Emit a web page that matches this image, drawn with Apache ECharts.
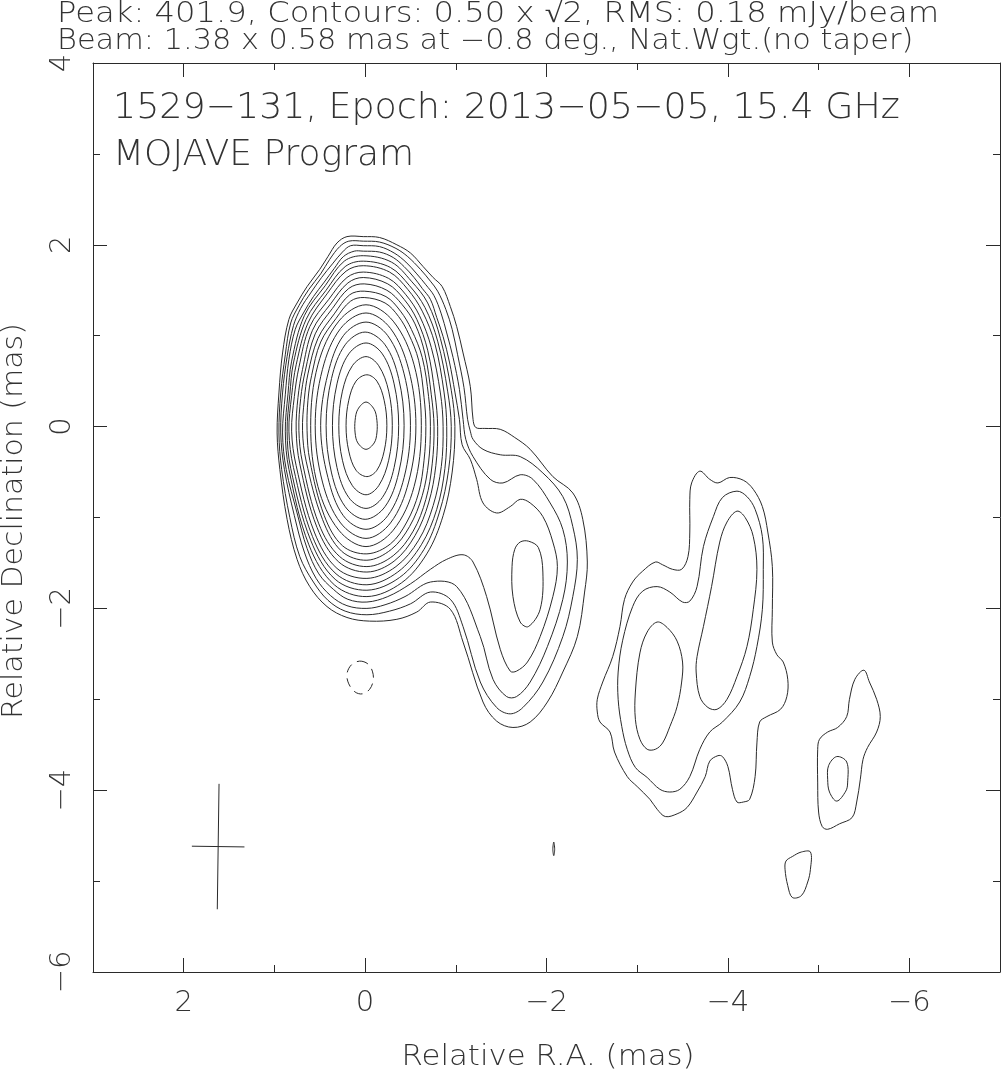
<!DOCTYPE html>
<html><head><meta charset="utf-8">
<script src="https://cdn.jsdelivr.net/npm/echarts@6/dist/echarts.min.js"></script>
<style>html,body{margin:0;padding:0;background:#fff}#c{width:1001px;height:1079px}</style>
</head><body><div id="c"></div>
<script>
// ---------- tick values ----------
const X_MAJOR = [-6, -4, -2, 0, 2];
const X_MINOR = [-5, -3, -1, 1];
const Y_MAJOR = [-6, -4, -2, 0, 2, 4];
const Y_MINOR = [-5, -3, -1, 1, 3];

// ---------- texts ----------
const HEADER1 = 'Peak: 401.9, Contours: 0.50 x \u221A2, RMS: 0.18 mJy/beam';
const HEADER2 = 'Beam: 1.38 x 0.58 mas at \u22120.8 deg., Nat.Wgt.(no taper)';
const TITLE1 = '1529\u2212131, Epoch: 2013\u221205\u221205, 15.4 GHz';
const TITLE2 = 'MOJAVE Program';
const XNAME = 'Relative R.A. (mas)';
const YNAME = 'Relative Declination (mas)';

// ---------- beam (mas, deg) ----------
const BEAM_CENTER = [1.62, -4.62];
const BEAM_AXES = [1.38, 0.58];
const BEAM_PA = -0.8;

// ---------- contours (RA mas, Dec mas), levels 0.5 x sqrt2^n mJy/beam ----------
const lvl01 = [[0.02,2.09],[-0.16,2.08],[-0.35,2.00],[-0.50,1.91],[-0.64,1.76],[-0.75,1.64],[-0.85,1.54],[-0.94,1.32],[-1.01,1.10],[-1.08,0.81],[-1.16,0.44],[-1.19,0.08],[-1.22,-0.01],[-1.32,-0.02],[-1.49,-0.03],[-1.65,-0.12],[-1.82,-0.25],[-2.07,-0.55],[-2.29,-0.73],[-2.40,-1.02],[-2.45,-1.49],[-2.42,-1.82],[-2.34,-2.31],[-2.18,-2.70],[-2.01,-3.03],[-1.82,-3.25],[-1.63,-3.31],[-1.45,-3.24],[-1.30,-3.03],[-1.08,-2.37],[-0.94,-2.01],[-0.72,-1.93],[-0.57,-2.04],[-0.35,-2.12],[-0.05,-2.14],[0.20,-2.10],[0.42,-1.98],[0.61,-1.76],[0.75,-1.46],[0.86,-1.02],[0.94,-0.47],[0.97,-0.07],[0.95,0.37],[0.91,0.81],[0.84,1.18],[0.75,1.36],[0.64,1.54],[0.50,1.73],[0.41,1.87],[0.31,2.02],[0.20,2.09]];
const lvl02 = [[0.02,2.04],[-0.16,2.03],[-0.34,1.96],[-0.47,1.87],[-0.61,1.73],[-0.72,1.60],[-0.80,1.49],[-0.89,1.29],[-0.96,1.07],[-1.02,0.79],[-1.09,0.43],[-1.13,0.08],[-1.16,-0.05],[-1.19,-0.14],[-1.30,-0.25],[-1.49,-0.31],[-1.71,-0.33],[-1.96,-0.51],[-2.18,-0.77],[-2.29,-1.10],[-2.34,-1.46],[-2.29,-1.87],[-2.18,-2.31],[-1.96,-2.81],[-1.74,-3.09],[-1.60,-3.16],[-1.45,-3.09],[-1.27,-2.81],[-1.08,-2.20],[-0.94,-1.90],[-0.72,-1.82],[-0.50,-1.95],[-0.27,-2.03],[-0.02,-2.07],[0.22,-2.03],[0.41,-1.91],[0.57,-1.71],[0.72,-1.43],[0.83,-1.00],[0.92,-0.47],[0.95,-0.07],[0.93,0.37],[0.88,0.79],[0.82,1.14],[0.73,1.33],[0.62,1.51],[0.49,1.68],[0.39,1.84],[0.28,1.98],[0.18,2.04]];
const lvl03 = [[0.02,1.99],[-0.16,1.98],[-0.32,1.91],[-0.45,1.81],[-0.57,1.68],[-0.67,1.56],[-0.76,1.44],[-0.84,1.24],[-0.90,1.03],[-0.97,0.76],[-1.04,0.41],[-1.08,0.08],[-1.11,-0.14],[-1.19,-0.33],[-1.38,-0.58],[-1.52,-0.62],[-1.71,-0.53],[-1.85,-0.58],[-2.04,-0.84],[-2.18,-1.13],[-2.23,-1.49],[-2.18,-1.90],[-2.01,-2.42],[-1.82,-2.81],[-1.67,-2.97],[-1.56,-2.97],[-1.41,-2.78],[-1.27,-2.31],[-1.01,-1.76],[-0.72,-1.71],[-0.44,-1.87],[-0.22,-1.96],[-0.02,-2.00],[0.20,-1.97],[0.38,-1.86],[0.54,-1.67],[0.67,-1.38],[0.78,-0.98],[0.89,-0.47],[0.93,-0.07],[0.91,0.37],[0.86,0.77],[0.79,1.11],[0.71,1.30],[0.60,1.47],[0.48,1.64],[0.36,1.79],[0.25,1.92],[0.16,1.99]];
const lvl04 = [[0.02,1.93],[-0.16,1.92],[-0.31,1.86],[-0.43,1.76],[-0.54,1.64],[-0.63,1.52],[-0.72,1.40],[-0.79,1.20],[-0.86,0.99],[-0.93,0.71],[-0.99,0.38],[-1.04,0.08],[-1.07,-0.20],[-1.16,-0.36],[-1.23,-0.58],[-1.30,-0.84],[-1.45,-0.95],[-1.60,-0.88],[-1.71,-0.80],[-1.82,-0.84],[-1.96,-0.99],[-2.07,-1.27],[-2.12,-1.54],[-2.07,-1.87],[-1.93,-2.31],[-1.79,-2.59],[-1.67,-2.69],[-1.60,-2.69],[-1.49,-2.45],[-1.34,-1.87],[-1.19,-1.49],[-1.08,-1.41],[-0.90,-1.46],[-0.72,-1.57],[-0.50,-1.73],[-0.25,-1.87],[-0.02,-1.93],[0.19,-1.90],[0.35,-1.79],[0.51,-1.62],[0.64,-1.34],[0.75,-0.95],[0.87,-0.47],[0.91,-0.07],[0.88,0.35],[0.84,0.74],[0.77,1.07],[0.68,1.25],[0.57,1.43],[0.45,1.59],[0.34,1.74],[0.24,1.87],[0.12,1.93]];
const lvl05 = [[0.02,1.88],[-0.29,1.81],[-0.51,1.60],[-0.69,1.36],[-0.83,0.97],[-0.95,0.40],[-0.99,0.0],[-0.96,-0.50],[-0.86,-0.98],[-0.68,-1.40],[-0.40,-1.72],[-0.02,-1.87],[0.34,-1.74],[0.62,-1.30],[0.84,-0.47],[0.88,-0.05],[0.85,0.36],[0.81,0.72],[0.67,1.22],[0.44,1.55],[0.23,1.82]];
const lvl05jet = [[-1.71,-1.27],[-1.80,-1.26],[-1.91,-1.33],[-1.96,-1.60],[-1.93,-2.01],[-1.80,-2.20],[-1.71,-2.15],[-1.63,-1.87],[-1.62,-1.54],[-1.65,-1.35]];
const lvl06 = [[0.02,1.82],[-0.28,1.75],[-0.49,1.55],[-0.66,1.31],[-0.80,0.94],[-0.91,0.39],[-0.95,0.0],[-0.92,-0.48],[-0.82,-0.94],[-0.65,-1.35],[-0.38,-1.66],[-0.02,-1.80],[0.33,-1.68],[0.60,-1.25],[0.82,-0.46],[0.86,-0.05],[0.83,0.35],[0.79,0.70],[0.65,1.18],[0.43,1.50],[0.22,1.76]];
const lvl07 = [[0.02,1.77],[-0.27,1.70],[-0.47,1.51],[-0.63,1.27],[-0.77,0.91],[-0.87,0.38],[-0.90,0.0],[-0.88,-0.46],[-0.79,-0.91],[-0.62,-1.30],[-0.36,-1.60],[-0.02,-1.74],[0.32,-1.62],[0.58,-1.21],[0.79,-0.45],[0.84,-0.05],[0.81,0.34],[0.76,0.68],[0.63,1.14],[0.42,1.46],[0.21,1.71]];
const lvl08 = [[0.02,1.70],[-0.26,1.63],[-0.45,1.45],[-0.60,1.22],[-0.73,0.87],[-0.83,0.37],[-0.86,0.0],[-0.84,-0.44],[-0.75,-0.87],[-0.59,-1.25],[-0.34,-1.54],[-0.02,-1.67],[0.31,-1.56],[0.56,-1.16],[0.76,-0.43],[0.81,-0.05],[0.78,0.33],[0.73,0.65],[0.61,1.10],[0.40,1.40],[0.20,1.64]];
const lvl09 = [[0.02,1.64],[-0.25,1.57],[-0.43,1.40],[-0.57,1.18],[-0.69,0.84],[-0.77,0.36],[-0.80,0.0],[-0.78,-0.43],[-0.70,-0.84],[-0.55,-1.20],[-0.32,-1.48],[-0.02,-1.60],[0.29,-1.49],[0.53,-1.11],[0.72,-0.41],[0.76,-0.04],[0.74,0.32],[0.69,0.63],[0.58,1.06],[0.38,1.35],[0.19,1.58]];
const lvl10 = [[0.01,1.57],[-0.24,1.50],[-0.41,1.34],[-0.55,1.13],[-0.66,0.80],[-0.73,0.35],[-0.76,0.0],[-0.74,-0.41],[-0.67,-0.80],[-0.53,-1.15],[-0.31,-1.42],[-0.02,-1.54],[0.28,-1.43],[0.51,-1.07],[0.69,-0.40],[0.73,-0.04],[0.71,0.31],[0.66,0.61],[0.55,1.02],[0.36,1.30],[0.18,1.52]];
const lvl11 = [[0.01,1.49],[-0.23,1.43],[-0.39,1.27],[-0.51,1.07],[-0.63,0.76],[-0.70,0.33],[-0.72,0.0],[-0.70,-0.39],[-0.63,-0.76],[-0.49,-1.10],[-0.29,-1.35],[-0.02,-1.47],[0.26,-1.37],[0.47,-1.02],[0.65,-0.38],[0.69,-0.04],[0.67,0.30],[0.63,0.58],[0.52,0.97],[0.34,1.24],[0.17,1.45]];
const lvl12 = [[0.01,1.42],[-0.22,1.36],[-0.37,1.21],[-0.48,1.02],[-0.59,0.73],[-0.65,0.32],[-0.67,0.0],[-0.65,-0.37],[-0.59,-0.73],[-0.46,-1.05],[-0.28,-1.29],[-0.02,-1.40],[0.25,-1.31],[0.45,-0.98],[0.61,-0.37],[0.64,-0.04],[0.63,0.29],[0.59,0.56],[0.49,0.93],[0.32,1.19],[0.16,1.38]];
const lvl13 = [[-0.01,1.34],[-0.31,1.16],[-0.54,0.68],[-0.62,0.01],[-0.54,-0.66],[-0.31,-1.14],[-0.01,-1.32],[0.29,-1.14],[0.52,-0.66],[0.60,0.01],[0.52,0.68],[0.29,1.16]];
const lvl14 = [[-0.01,1.25],[-0.28,1.08],[-0.48,0.63],[-0.56,0.01],[-0.48,-0.61],[-0.28,-1.06],[-0.01,-1.23],[0.27,-1.06],[0.47,-0.61],[0.55,0.01],[0.47,0.63],[0.27,1.08]];
const lvl15 = [[-0.01,1.15],[-0.25,1.00],[-0.43,0.58],[-0.50,0.01],[-0.43,-0.56],[-0.25,-0.98],[-0.01,-1.13],[0.24,-0.98],[0.41,-0.56],[0.49,0.01],[0.41,0.58],[0.24,1.00]];
const lvl16 = [[0.0,1.04],[-0.22,0.90],[-0.37,0.53],[-0.43,0.01],[-0.37,-0.51],[-0.22,-0.88],[0.0,-1.02],[0.22,-0.88],[0.37,-0.51],[0.43,0.01],[0.37,0.53],[0.22,0.90]];
const lvl17 = [[-0.01,0.92],[-0.19,0.80],[-0.32,0.47],[-0.37,0.01],[-0.32,-0.45],[-0.19,-0.78],[-0.01,-0.90],[0.18,-0.78],[0.31,-0.45],[0.36,0.01],[0.31,0.47],[0.18,0.80]];
const lvl18 = [[-0.01,0.77],[-0.15,0.67],[-0.26,0.39],[-0.30,0.01],[-0.26,-0.37],[-0.15,-0.65],[-0.01,-0.75],[0.14,-0.65],[0.25,-0.37],[0.29,0.01],[0.25,0.39],[0.14,0.67]];
const lvl19 = [[-0.02,0.57],[-0.13,0.50],[-0.21,0.29],[-0.24,0.01],[-0.21,-0.27],[-0.13,-0.48],[-0.02,-0.55],[0.10,-0.48],[0.18,-0.27],[0.21,0.01],[0.18,0.29],[0.10,0.50]];
const lvl20 = [[-0.01,0.27],[-0.10,0.19],[-0.13,0.07],[-0.13,-0.07],[-0.10,-0.18],[-0.01,-0.25],[0.08,-0.18],[0.11,-0.07],[0.11,0.07],[0.08,0.19]];

// outer jet knots
const knotA1 = [[-3.69,-0.49],[-3.80,-0.58],[-3.89,-0.62],[-4.02,-0.56],[-4.17,-0.59],[-4.28,-0.69],[-4.38,-0.88],[-4.44,-1.16],[-4.49,-1.54],[-4.49,-2.01],[-4.49,-2.37],[-4.54,-2.51],[-4.61,-2.59],[-4.66,-2.78],[-4.65,-2.97],[-4.58,-3.11],[-4.43,-3.19],[-4.35,-3.25],[-4.32,-3.48],[-4.30,-3.85],[-4.24,-4.10],[-4.17,-4.13],[-4.10,-4.13],[-4.05,-3.99],[-4.00,-3.74],[-3.94,-3.63],[-3.89,-3.62],[-3.80,-3.68],[-3.75,-3.85],[-3.66,-4.02],[-3.55,-4.19],[-3.44,-4.26],[-3.31,-4.29],[-3.22,-4.21],[-3.14,-4.10],[-3.00,-3.96],[-2.89,-3.85],[-2.75,-3.58],[-2.70,-3.36],[-2.59,-3.25],[-2.56,-3.14],[-2.56,-3.00],[-2.62,-2.81],[-2.73,-2.53],[-2.81,-2.20],[-2.86,-1.90],[-2.95,-1.71],[-3.06,-1.59],[-3.20,-1.49],[-3.28,-1.52],[-3.39,-1.57],[-3.49,-1.57],[-3.56,-1.43],[-3.58,-1.16],[-3.58,-0.80],[-3.60,-0.62]];
const knotA2 = [[-4.10,-0.71],[-4.21,-0.77],[-4.30,-0.91],[-4.38,-1.21],[-4.39,-1.57],[-4.38,-2.01],[-4.32,-2.42],[-4.24,-2.75],[-4.13,-3.03],[-3.94,-3.25],[-3.80,-3.36],[-3.69,-3.55],[-3.58,-3.85],[-3.47,-3.99],[-3.36,-4.02],[-3.25,-3.99],[-3.11,-3.86],[-2.98,-3.75],[-2.89,-3.55],[-2.83,-3.30],[-2.79,-3.00],[-2.79,-2.70],[-2.84,-2.35],[-2.95,-1.98],[-3.06,-1.81],[-3.22,-1.76],[-3.36,-1.82],[-3.50,-1.93],[-3.58,-1.92],[-3.66,-1.76],[-3.73,-1.32],[-3.84,-0.99],[-3.94,-0.78]];
const knotA3n = [[-4.10,-0.93],[-4.19,-1.00],[-4.28,-1.21],[-4.32,-1.57],[-4.28,-2.01],[-4.21,-2.42],[-4.10,-2.75],[-3.99,-3.00],[-3.88,-3.11],[-3.78,-3.09],[-3.69,-2.97],[-3.65,-2.70],[-3.66,-2.53],[-3.73,-2.20],[-3.82,-1.76],[-3.91,-1.27],[-3.99,-1.05]];
const knotA3s = [[-3.22,-2.15],[-3.33,-2.21],[-3.44,-2.36],[-3.50,-2.59],[-3.49,-2.81],[-3.44,-3.08],[-3.36,-3.30],[-3.28,-3.48],[-3.20,-3.55],[-3.11,-3.55],[-3.03,-3.44],[-2.98,-3.22],[-2.98,-2.92],[-3.03,-2.49],[-3.11,-2.26]];
const knotB1 = [[-5.50,-2.68],[-5.56,-2.81],[-5.64,-3.00],[-5.68,-3.19],[-5.64,-3.36],[-5.54,-3.53],[-5.49,-3.66],[-5.46,-3.88],[-5.42,-4.13],[-5.37,-4.30],[-5.23,-4.37],[-5.10,-4.43],[-5.04,-4.40],[-5.00,-4.24],[-4.99,-3.92],[-4.99,-3.55],[-5.01,-3.44],[-5.10,-3.36],[-5.21,-3.31],[-5.31,-3.19],[-5.34,-3.00],[-5.40,-2.78]];
const knotB2 = [[-5.20,-3.63],[-5.31,-3.69],[-5.32,-3.92],[-5.30,-4.01],[-5.20,-4.12],[-5.12,-4.02],[-5.10,-3.88],[-5.11,-3.73]];
const knotC1 = [[-4.81,-4.68],[-4.91,-4.68],[-4.91,-4.87],[-4.88,-5.01],[-4.81,-5.16],[-4.71,-5.18],[-4.66,-5.05],[-4.63,-4.87],[-4.64,-4.78],[-4.71,-4.73]];
const speck = [[-2.08,-4.57],[-2.09,-4.65],[-2.08,-4.72],[-2.07,-4.65]];
const negative1 = [[0.06,-2.58],[-0.03,-2.61],[-0.08,-2.69],[-0.09,-2.79],[-0.05,-2.89],[0.03,-2.94],[0.11,-2.92],[0.18,-2.83],[0.20,-2.72],[0.15,-2.62]];

const CONTOURS = [
  lvl01, lvl02, lvl03, lvl04, lvl05, lvl05jet, lvl06, lvl07, lvl08, lvl09, lvl10,
  lvl11, lvl12, lvl13, lvl14, lvl15, lvl16, lvl17, lvl18, lvl19, lvl20,
  knotA1, knotA2, knotA3n, knotA3s, knotB1, knotB2, knotC1, speck
];
const NEGATIVE = [negative1];

// ---------- chart ----------
const FONT = 'DejaVu Sans';
const INK = '#2a2a2a';
const TXT = '#333';
const fmt = v => (v < 0 ? '\u2212' + Math.abs(v) : String(v));

function xAx(pos, vals, len, withLabel, withLine) {
  return {
    type: 'value', min: -7, max: 3, inverse: true, position: pos,
    axisLine: { show: withLine, onZero: false, lineStyle: { color: INK, width: 1 } },
    axisTick: { show: true, inside: true, length: len, customValues: vals, lineStyle: { color: INK, width: 1 } },
    axisLabel: { show: withLabel, customValues: vals, formatter: fmt, margin: 17,
      fontSize: 29, color: TXT, fontFamily: FONT, fontWeight: 200 },
    splitLine: { show: false }
  };
}
function yAx(pos, vals, len, withLabel, withLine) {
  return {
    type: 'value', min: -6, max: 4, position: pos,
    axisLine: { show: withLine, onZero: false, lineStyle: { color: INK, width: 1 } },
    axisTick: { show: true, inside: true, length: len, customValues: vals, lineStyle: { color: INK, width: 1 } },
    axisLabel: { show: withLabel, customValues: vals, formatter: fmt, margin: 16, rotate: 90,
      fontSize: 29, color: TXT, fontFamily: FONT, fontWeight: 200 },
    splitLine: { show: false }
  };
}

const chart = echarts.init(document.getElementById('c'), null, { renderer: 'canvas' });
const txt = (s, x, y, size, sx, align, rot) => ({
  type: 'text', x: x, y: y, scaleX: sx, rotation: rot || 0, silent: true,
  style: { text: s, fontSize: size, fontFamily: FONT, fontWeight: 200, fill: TXT,
    align: align || 'left', verticalAlign: 'middle' }
});

chart.setOption({
  animation: false,
  backgroundColor: '#fff',
  grid: { left: 93, right: 1, top: 63, bottom: 107, containLabel: false },
  xAxis: [xAx('bottom', X_MAJOR, 14, true, true), xAx('bottom', X_MINOR, 7, false, false),
          xAx('top', X_MAJOR, 14, false, true), xAx('top', X_MINOR, 7, false, false)],
  yAxis: [yAx('left', Y_MAJOR, 14, true, true), yAx('left', Y_MINOR, 7, false, false),
          yAx('right', Y_MAJOR, 14, false, true), yAx('right', Y_MINOR, 7, false, false)],
  graphic: [
    txt(HEADER1, 57, 15, 28, 1.15),
    txt(HEADER2, 57, 42, 28, 1.085),
    txt(TITLE1, 113, 109, 36, 1.01),
    txt(TITLE2, 113, 156, 36, 1.0),
    txt(XNAME, 548, 1058, 28, 1.1, 'center'),
    txt(YNAME, 15, 521, 28, 1.07, 'center', Math.PI / 2)
  ],
  series: [
    {
      type: 'custom', coordinateSystem: 'cartesian2d', silent: true,
      xAxisIndex: 0, yAxisIndex: 0,
      data: CONTOURS.map(c => [c[0][0], c[0][1]]),
      encode: { x: 0, y: 1 },
      renderItem: (params, api) => {
        const pts = CONTOURS[params.dataIndex].map(p => api.coord(p));
        return { type: 'polygon', shape: { points: pts, smooth: 0.35 },
          style: { fill: 'none', stroke: INK, lineWidth: 1 } };
      }
    },
    {
      type: 'custom', coordinateSystem: 'cartesian2d', silent: true,
      data: NEGATIVE.map(c => [c[0][0], c[0][1]]),
      encode: { x: 0, y: 1 },
      renderItem: (params, api) => {
        const pts = NEGATIVE[params.dataIndex].map(p => api.coord(p));
        return { type: 'polygon', shape: { points: pts, smooth: 0.35 },
          style: { fill: 'none', stroke: INK, lineWidth: 1, lineDash: [9, 6] } };
      }
    },
    {
      type: 'custom', coordinateSystem: 'cartesian2d', silent: true,
      data: [BEAM_CENTER],
      encode: { x: 0, y: 1 },
      renderItem: (params, api) => {
        const t = BEAM_PA * Math.PI / 180;
        const [cx, cy] = BEAM_CENTER;
        const a = BEAM_AXES[0] / 2, b = BEAM_AXES[1] / 2;
        const maj1 = api.coord([cx + a * Math.sin(t), cy + a * Math.cos(t)]);
        const maj2 = api.coord([cx - a * Math.sin(t), cy - a * Math.cos(t)]);
        const min1 = api.coord([cx + b * Math.cos(t), cy - b * Math.sin(t)]);
        const min2 = api.coord([cx - b * Math.cos(t), cy + b * Math.sin(t)]);
        return { type: 'group', children: [
          { type: 'line', shape: { x1: maj1[0], y1: maj1[1], x2: maj2[0], y2: maj2[1] }, style: { stroke: INK, lineWidth: 1 } },
          { type: 'line', shape: { x1: min1[0], y1: min1[1], x2: min2[0], y2: min2[1] }, style: { stroke: INK, lineWidth: 1 } }
        ] };
      }
    }
  ]
});
</script></body></html>
